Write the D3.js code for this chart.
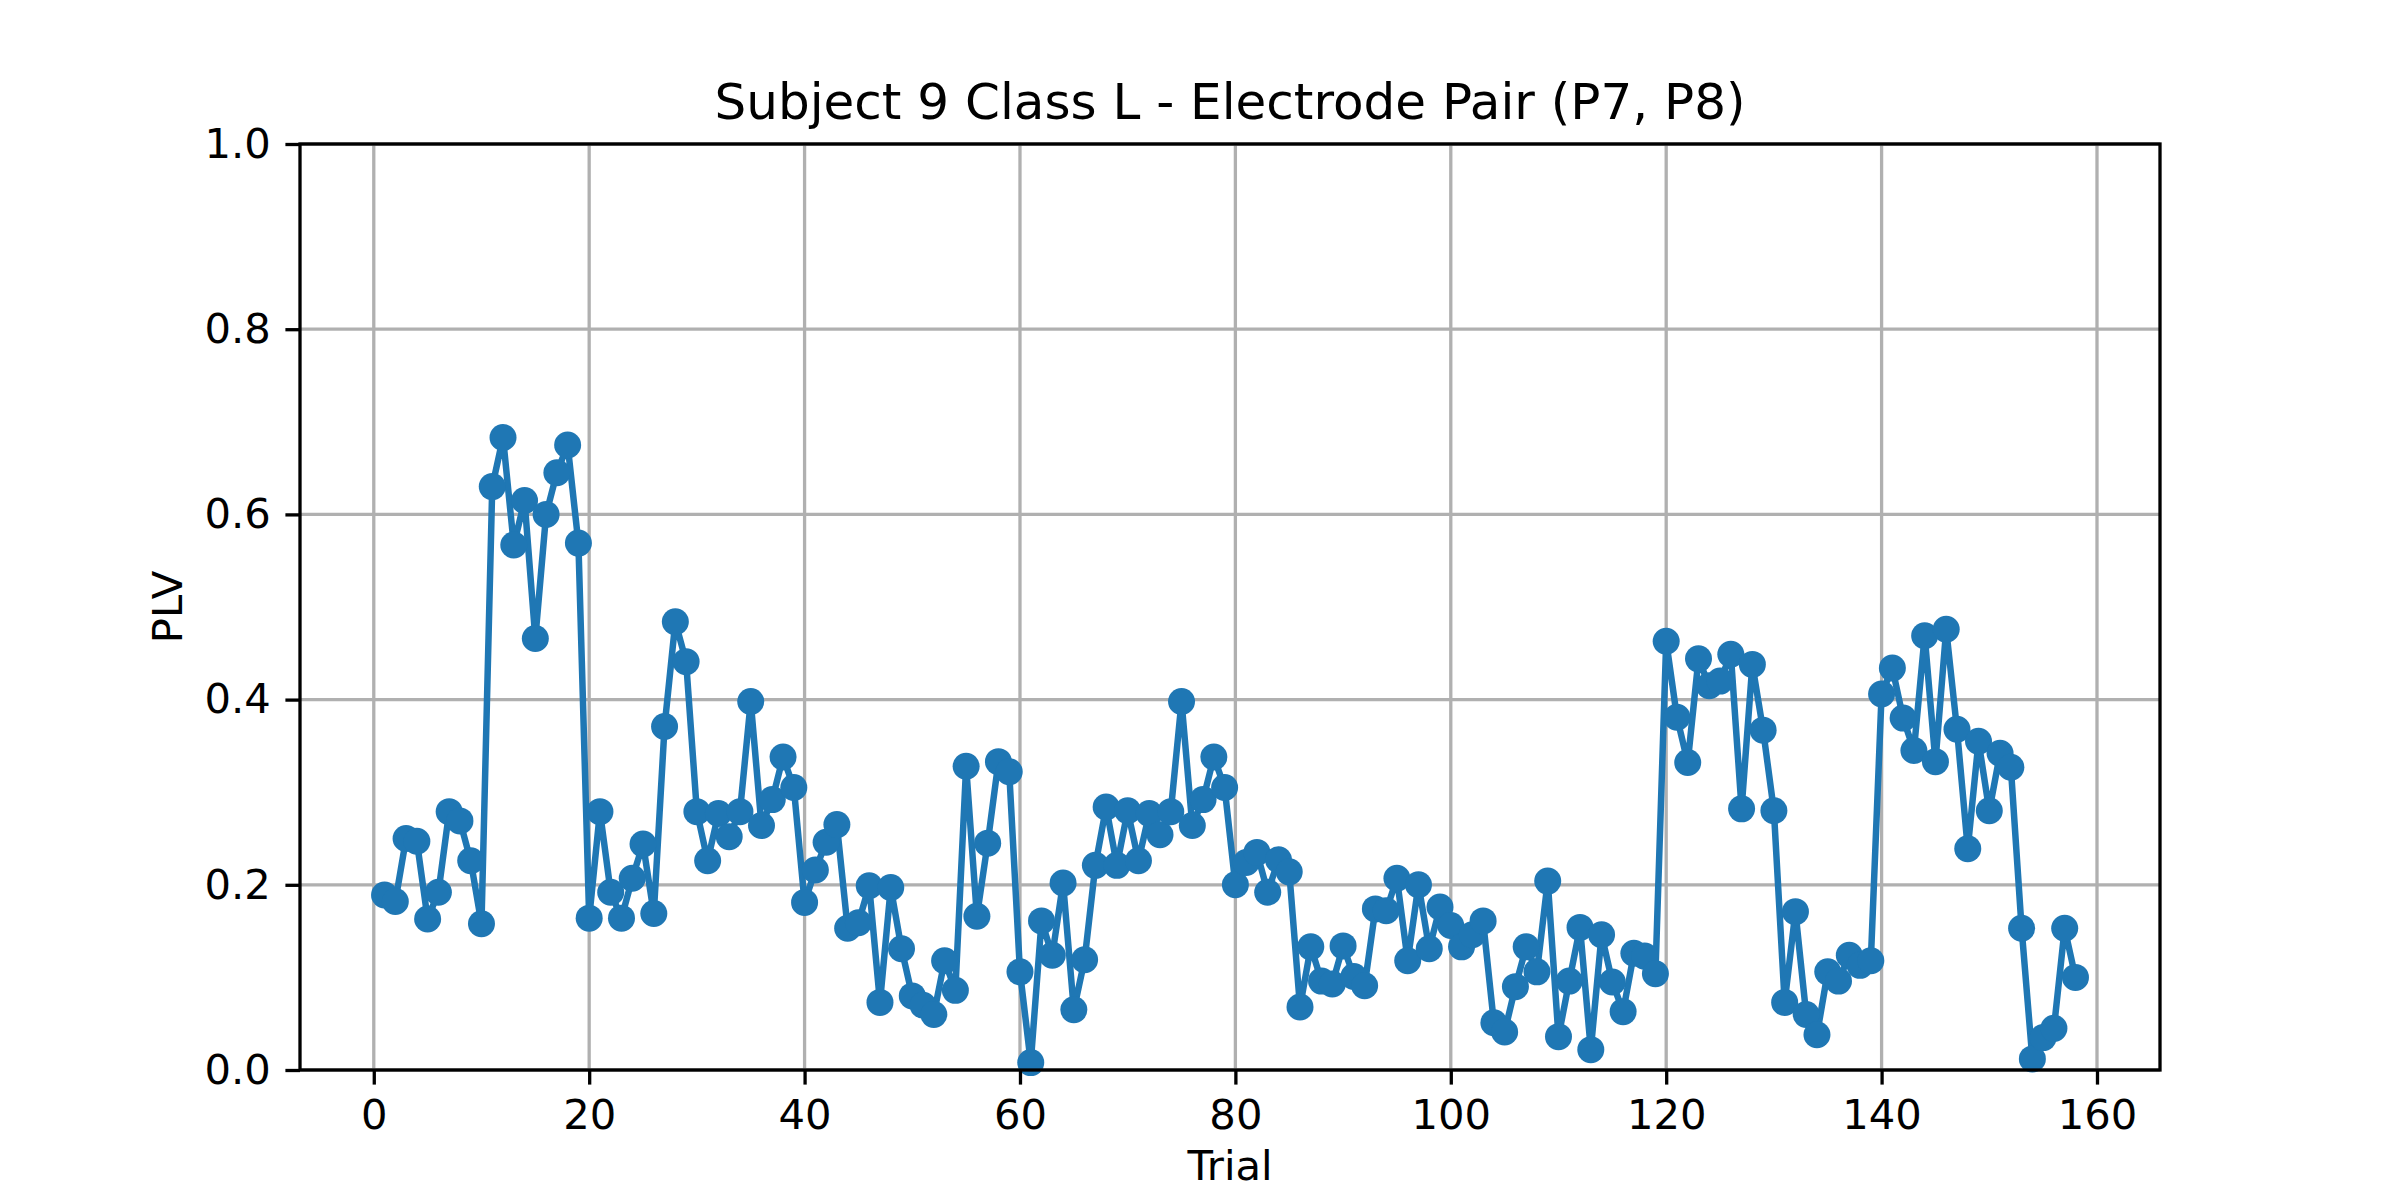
<!DOCTYPE html>
<html>
<head>
<meta charset="utf-8">
<script src="https://cdn.jsdelivr.net/npm/d3@7"></script>
<style>
  body { margin: 0; background: #fff; }
  text { font-family: "DejaVu Sans", sans-serif; fill: #000; }
</style>
</head>
<body>
<div id="chart"></div>
<script>
// PLV per trial (trials 1..158)
const plv = [
  0.189, 0.182, 0.25, 0.247, 0.163, 0.192, 0.279, 0.269, 0.226, 0.158,
  0.63, 0.683, 0.567, 0.615, 0.466, 0.6, 0.645, 0.675, 0.569, 0.164,
  0.279, 0.192, 0.164, 0.207, 0.244, 0.169, 0.371, 0.484, 0.441, 0.279,
  0.226, 0.277, 0.252, 0.279, 0.398, 0.264, 0.292, 0.338, 0.305, 0.181,
  0.216, 0.246, 0.265, 0.153, 0.159, 0.199, 0.073, 0.197, 0.131, 0.08,
  0.07, 0.06, 0.118, 0.086, 0.328, 0.166, 0.245, 0.333, 0.322, 0.106,
  0.008, 0.161, 0.124, 0.202, 0.065, 0.119, 0.221, 0.284, 0.221, 0.28,
  0.226, 0.277, 0.254, 0.279, 0.398, 0.264, 0.292, 0.338, 0.305, 0.2,
  0.224, 0.235, 0.192, 0.227, 0.214, 0.068, 0.133, 0.096, 0.093, 0.134,
  0.101, 0.091, 0.174, 0.172, 0.207, 0.118, 0.2, 0.131, 0.176, 0.156,
  0.133, 0.146, 0.161, 0.051, 0.041, 0.09, 0.133, 0.106, 0.204, 0.036,
  0.096, 0.154, 0.022, 0.146, 0.095, 0.063, 0.126, 0.123, 0.104, 0.463,
  0.381, 0.332, 0.444, 0.415, 0.42, 0.449, 0.282, 0.438, 0.367, 0.28,
  0.073, 0.171, 0.06, 0.038, 0.106, 0.096, 0.124, 0.113, 0.118, 0.406,
  0.434, 0.38, 0.345, 0.469, 0.333, 0.476, 0.368, 0.239, 0.355, 0.28,
  0.342, 0.327, 0.153, 0.012, 0.035, 0.045, 0.153, 0.1
];
const trials = plv.map((d, i) => i + 1);
const xTicks = [0, 20, 40, 60, 80, 100, 120, 140, 160];
const yTicks = [0, 0.2, 0.4, 0.6, 0.8, 1.0];

const W = 2400, H = 1200;
const margin = {left: 300, right: 240, top: 144, bottom: 130};
const iw = W - margin.left - margin.right;
const ih = H - margin.top - margin.bottom;

const svg = d3.select("#chart").append("svg")
    .attr("width", W)
    .attr("height", H);

const g = svg.append("g")
    .attr("transform", `translate(${margin.left},${margin.top})`);

const pad = (trials.length - 1) * 0.05;
const x = d3.scaleLinear().domain([1 - pad, trials.length + pad]).range([0, iw]);
const y = d3.scaleLinear().domain([0, 1]).range([ih, 0]);

// grid
g.append("g").selectAll("line").data(xTicks).enter().append("line")
    .attr("x1", d => x(d)).attr("x2", d => x(d))
    .attr("y1", 0).attr("y2", ih)
    .attr("stroke", "#b0b0b0").attr("stroke-width", 3.3);
g.append("g").selectAll("line").data(yTicks).enter().append("line")
    .attr("x1", 0).attr("x2", iw)
    .attr("y1", d => y(d)).attr("y2", d => y(d))
    .attr("stroke", "#b0b0b0").attr("stroke-width", 3.3);

// series
const line = d3.line().x((d, i) => x(trials[i])).y(d => y(d));
g.append("path")
    .datum(plv)
    .attr("fill", "none")
    .attr("stroke", "#1f77b4")
    .attr("stroke-width", 6.5)
    .attr("stroke-linejoin", "round")
    .attr("d", line);

g.selectAll("circle.pt").data(plv).enter().append("circle")
    .attr("class", "pt")
    .attr("cx", (d, i) => x(trials[i]))
    .attr("cy", d => y(d))
    .attr("r", 13.5)
    .attr("fill", "#1f77b4");

// axes
const xAxis = g.append("g")
    .attr("transform", `translate(0,${ih})`)
    .call(d3.axisBottom(x).tickValues(xTicks).tickFormat(d3.format("d")).tickSize(14.6).tickPadding(14.6));
const yAxis = g.append("g")
    .call(d3.axisLeft(y).tickValues(yTicks).tickFormat(d3.format(".1f")).tickSize(14.6).tickPadding(14.6));

[xAxis, yAxis].forEach(a => {
    a.select(".domain").remove();
    a.selectAll("line").attr("stroke", "#000").attr("stroke-width", 3.3);
    a.selectAll("text").style("font-size", "41.7px").attr("font-family", "DejaVu Sans");
});

// frame
g.append("rect")
    .attr("width", iw).attr("height", ih)
    .attr("fill", "none").attr("stroke", "#000").attr("stroke-width", 3.3);

// labels
svg.append("text")
    .attr("x", margin.left + iw / 2).attr("y", 119)
    .attr("text-anchor", "middle")
    .style("font-size", "50px")
    .text("Subject 9 Class L - Electrode Pair (P7, P8)");

svg.append("text")
    .attr("x", margin.left + iw / 2).attr("y", 1180)
    .attr("text-anchor", "middle")
    .style("font-size", "41.7px")
    .text("Trial");

svg.append("text")
    .attr("transform", `translate(182,${margin.top + ih / 2}) rotate(-90)`)
    .attr("text-anchor", "middle")
    .style("font-size", "41.7px")
    .text("PLV");
</script>
</body>
</html>
